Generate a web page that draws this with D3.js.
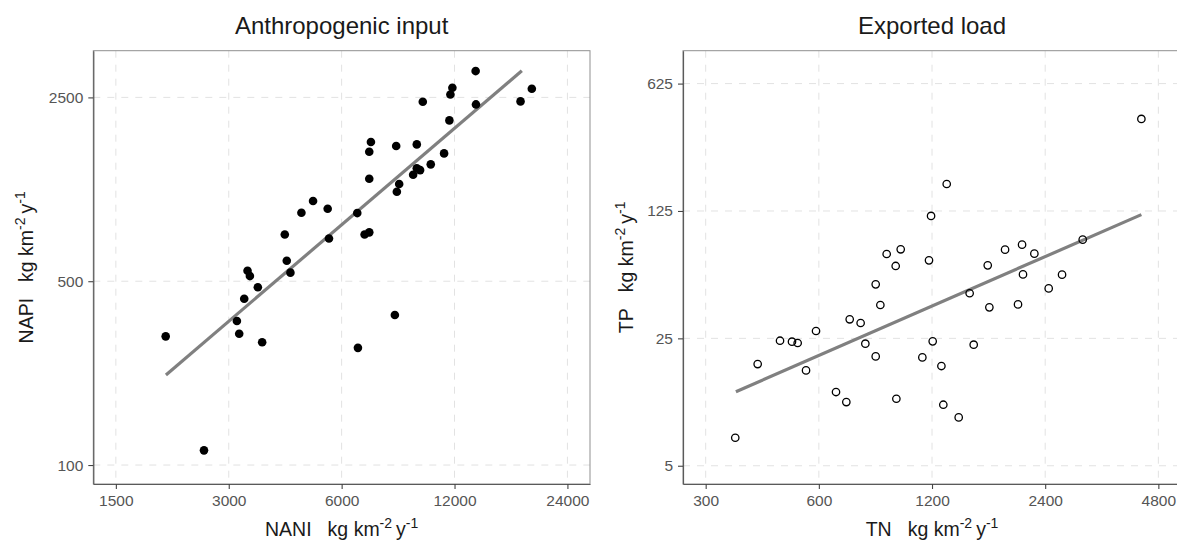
<!DOCTYPE html>
<html><head><meta charset="utf-8">
<script src="https://cdn.jsdelivr.net/npm/d3@7"></script>
<style>
body{margin:0;background:#fff}
svg{display:block}
text{font-family:"Liberation Sans",Arial,sans-serif}
</style>
</head><body>
<svg id="c" width="1177" height="541"></svg>
<script>
// ---- data ----
const naniX = [2037, 2577, 3154, 3199, 3299, 3367, 3416, 3587, 3683, 4232, 4284, 4381, 4687, 5034, 5507, 5551, 6604, 6631, 6908, 7109, 7109, 7109, 7182, 8319, 8387, 8421, 8542, 9307, 9519, 9519, 9714, 9875, 10370, 11254, 11627, 11699, 11843, 13661, 13689, 17997, 19288];
const napiY = [308.5, 113.7, 352.8, 315.7, 429, 548, 523, 474, 293, 753, 598, 539, 911, 1009, 943, 727, 908, 279, 753, 767, 1227, 1554, 1691, 372, 1633, 1095, 1171, 1270, 1657, 1343, 1323, 2407, 1391, 1531, 2044, 2566, 2721, 3148, 2351, 2414, 2697];
const tnX = [359.6, 412.5, 473, 509, 527, 554.7, 589.7, 666.5, 710, 724.8, 775, 797.7, 849.9, 849.9, 874.5, 909, 960.6, 964.6, 990.6, 1131, 1178, 1193, 1205, 1271, 1286, 1313, 1413, 1511, 1549, 1688, 1705, 1877, 2032, 2083, 2095, 2246, 2452, 2661, 3020, 4326];
const tpY = [7.12, 18.07, 24.27, 23.97, 23.57, 16.68, 27.43, 12.69, 11.18, 31.8, 30.35, 23.37, 49.47, 19.91, 38.1, 72.6, 62.4, 11.66, 77.0, 19.66, 67.0, 117.4, 24.07, 17.62, 10.81, 175.8, 9.21, 44.2, 23.08, 62.9, 37.0, 76.7, 38.4, 81.7, 56.1, 72.9, 47.0, 55.9, 87.0, 399.9];
const fitLeftX = [2040, 18140];
const fitLeftY = [220, 3157];
const fitRightX = [361, 4326];
const fitRightY = [12.74, 119.4];
const leftXTicks = [1500, 3000, 6000, 12000, 24000];
const leftYTicks = [100, 500, 2500];
const rightXTicks = [300, 600, 1200, 2400, 4800];
const rightYTicks = [5, 25, 125, 625];
const titles = ["Anthropogenic input", "Exported load"];
const xNames = ["NANI", "TN"];
const yNames = ["NAPI", "TP"];

const svg = d3.select("#c");
svg.append("rect").attr("width",1177).attr("height",541).attr("fill","#fff");

function axisTitle(x, y, name, rotate) {
  const t = svg.append("text").attr("text-anchor","middle").attr("font-size",19.5).attr("fill","#1a1a1a")
    .attr("transform", rotate ? `translate(${x},${y}) rotate(-90)` : `translate(${x},${y})`);
  t.append("tspan").text(name);
  t.append("tspan").attr("dx", 16).text("kg km");
  t.append("tspan").attr("font-size",14).attr("dy",-8.5).text("-2");
  t.append("tspan").attr("dy",8.5).attr("dx",4).text("y");
  t.append("tspan").attr("font-size",14).attr("dy",-8.5).text("-1");
}

function panel(cfg) {
  const x = d3.scaleLog().domain(cfg.xDom).range([cfg.x0, cfg.x1]);
  const y = d3.scaleLog().domain(cfg.yDom).range([cfg.y1, cfg.y0]);
  const g = svg.append("g");
  g.selectAll(".gx").data(cfg.xTicks).join("line")
    .attr("x1", d=>x(d)).attr("x2", d=>x(d)).attr("y1", cfg.y0).attr("y2", cfg.y1)
    .attr("stroke","#e2e2e2").attr("stroke-width",1).attr("stroke-dasharray","7,7");
  g.selectAll(".gy").data(cfg.yTicks).join("line")
    .attr("y1", d=>y(d)).attr("y2", d=>y(d)).attr("x1", cfg.x0).attr("x2", cfg.x1)
    .attr("stroke","#e2e2e2").attr("stroke-width",1).attr("stroke-dasharray","7,7");
  g.append("rect").attr("x",cfg.x0).attr("y",cfg.y0).attr("width",cfg.x1-cfg.x0).attr("height",cfg.y1-cfg.y0)
    .attr("fill","none").attr("stroke","#8f8f8f").attr("stroke-width",1);
  const ax = g.append("g").attr("transform",`translate(0,${cfg.y1})`)
    .call(d3.axisBottom(x).tickValues(cfg.xTicks).tickFormat(d3.format("d")).tickSize(5).tickSizeOuter(0).tickPadding(6));
  const ay = g.append("g").attr("transform",`translate(${cfg.x0},0)`)
    .call(d3.axisLeft(y).tickValues(cfg.yTicks).tickFormat(d3.format("d")).tickSize(5).tickSizeOuter(0).tickPadding(5));
  [ax, ay].forEach(a => {
    a.select(".domain").attr("stroke","#5a5a5a").attr("stroke-width",1.2);
    a.selectAll(".tick line").attr("stroke","#444").attr("stroke-width",1.1);
    a.selectAll(".tick text").attr("fill","#555").attr("font-size",15.5).attr("font-family",'"Liberation Sans",Arial,sans-serif');
  });
  const line = d3.line().x(d=>x(d[0])).y(d=>y(d[1]));
  g.append("path").datum(d3.zip(cfg.fitX, cfg.fitY)).attr("d", line)
    .attr("fill","none").attr("stroke","#808080").attr("stroke-width",3.2);
  g.selectAll(".pt").data(d3.zip(cfg.px, cfg.py)).join("circle")
    .attr("cx", d=>x(d[0])).attr("cy", d=>y(d[1]))
    .attr("r", cfg.filled ? 4.3 : 3.7)
    .attr("fill", cfg.filled ? "#000" : "none")
    .attr("stroke", "#000").attr("stroke-width", cfg.filled ? 0 : 1.3);
  svg.append("text").attr("x",(cfg.x0+cfg.x1)/2).attr("y",34).attr("text-anchor","middle")
    .attr("font-size",24).attr("fill","#1a1a1a").text(cfg.title);
  axisTitle((cfg.x0+cfg.x1)/2, 536, cfg.xName, false);
  axisTitle(cfg.yTitleX, (cfg.y0+cfg.y1)/2, cfg.yName, true);
}

panel({x0:93.3, x1:590, y0:50.7, y1:484, xDom:[1306, 27569], yDom:[84.7, 3763],
  xTicks:leftXTicks, yTicks:leftYTicks, px:naniX, py:napiY, fitX:fitLeftX, fitY:fitLeftY,
  filled:true, title:titles[0], xName:xNames[0], yName:yNames[0], yTitleX:33});
panel({x0:683, x1:1181, y0:50.7, y1:484, xDom:[261.1, 5514], yDom:[3.97, 947],
  xTicks:rightXTicks, yTicks:rightYTicks, px:tnX, py:tpY, fitX:fitRightX, fitY:fitRightY,
  filled:false, title:titles[1], xName:xNames[1], yName:yNames[1], yTitleX:633});
</script>
</body></html>
